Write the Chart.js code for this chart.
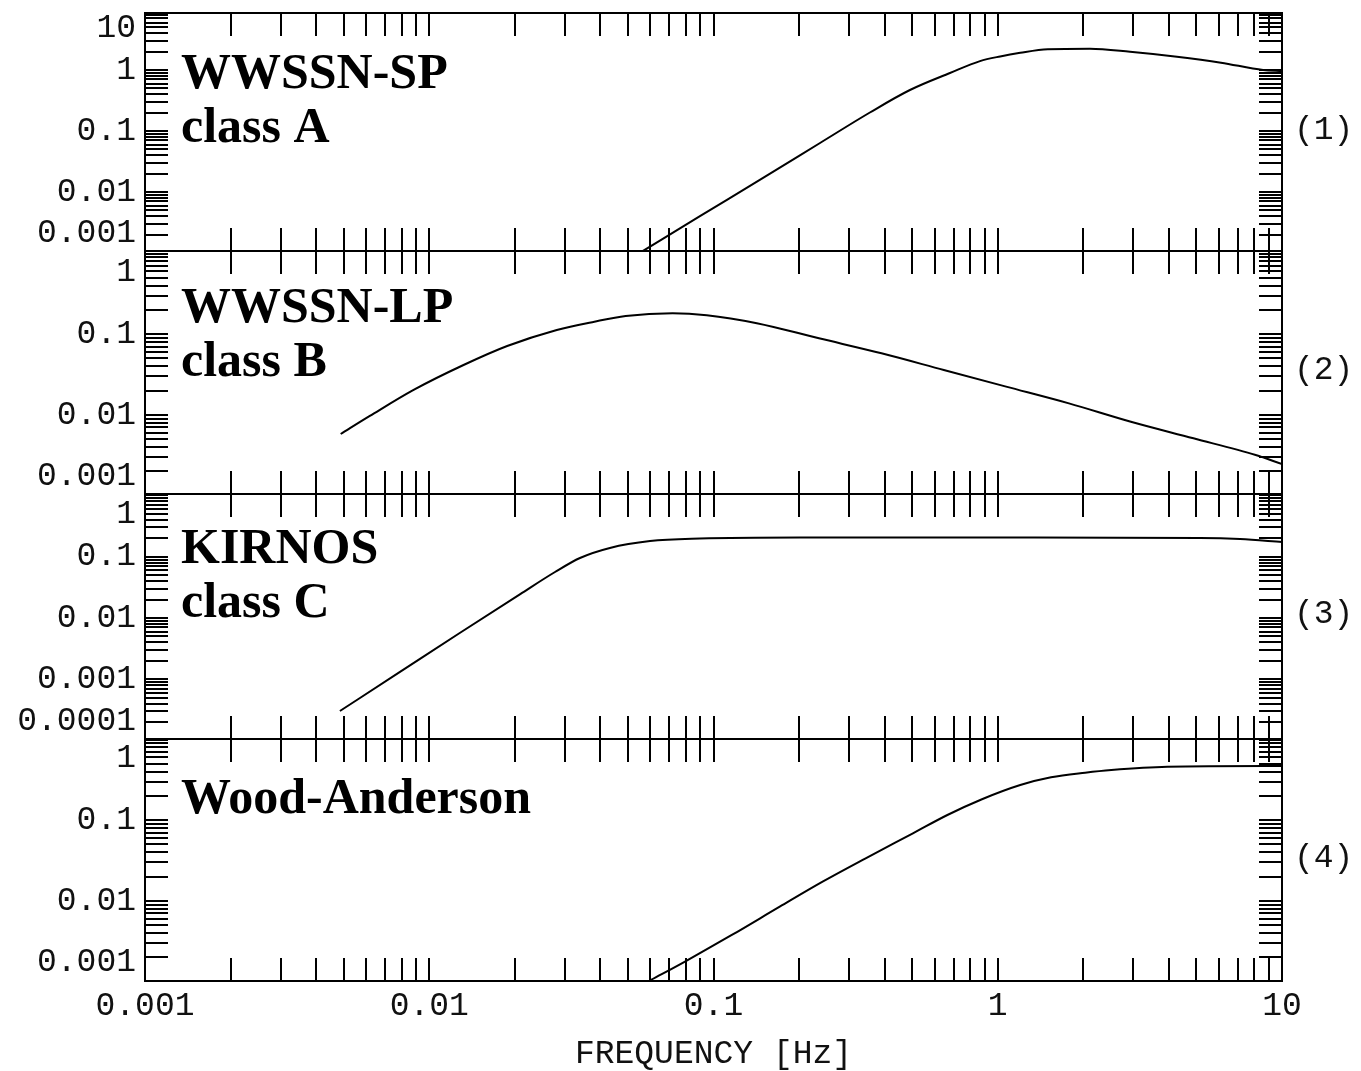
<!DOCTYPE html>
<html>
<head>
<meta charset="utf-8">
<title>Seismograph amplitude responses</title>
<script src="https://cdn.jsdelivr.net/npm/chart.js@4.4.1/dist/chart.umd.min.js"></script>
<style>
  html, body { margin: 0; padding: 0; background: #fff; overflow: hidden; }
  #page { position: relative; width: 1361px; height: 1071px; }
  #page canvas { position: absolute; left: 0; }
</style>
</head>
<body>
<div id="page"></div>
<script>
// ---- Tick labels ----------------------------------------------------------
const xTickLabels = ['0.001', '0.01', '0.1', '1', '10'];
const yTickLabelsSP  = ['10', '1', '0.1', '0.01', '0.001'];
const yTickLabelsLP  = ['1', '0.1', '0.01', '0.001'];
const yTickLabelsKIR = ['1', '0.1', '0.01', '0.001', '0.0001'];
const yTickLabelsWA  = ['1', '0.1', '0.01', '0.001'];
const axisTitle = 'FREQUENCY [Hz]';

// ---- Instrument names ------------------------------------------------------
const seriesNames   = ['WWSSN-SP', 'WWSSN-LP', 'KIRNOS', 'Wood-Anderson'];
const seriesClasses = ['class A', 'class B', 'class C', ''];
const panelTags     = ['(1)', '(2)', '(3)', '(4)'];

// ---- Amplitude responses (frequency in Hz, normalised amplitude) ----------
const freqSP = [0.0565, 0.0896, 0.146, 0.237, 0.355, 0.491, 0.679, 0.866, 1.02, 1.2, 1.5, 2.11, 2.92, 4.27, 6.1, 8.58, 10];
const ampSP  = [0.00108, 0.00401, 0.016, 0.0636, 0.201, 0.47, 0.893, 1.40, 1.67, 1.91, 2.18, 2.23, 1.99, 1.65, 1.32, 1.0, 0.963];

const freqLP = [0.00488, 0.00618, 0.00881, 0.0132, 0.0188, 0.0281, 0.0381, 0.0491, 0.0718, 0.0947, 0.142, 0.235, 0.390, 0.646, 1.07, 1.78, 2.94, 4.88, 8.08, 10];
const ampLP  = [0.0058, 0.0097, 0.0204, 0.0415, 0.0714, 0.113, 0.143, 0.168, 0.182, 0.172, 0.137, 0.0889, 0.058, 0.036, 0.0224, 0.0139, 0.00823, 0.00513, 0.00318, 0.00246];

const freqKIR = [0.00485, 0.00789, 0.0128, 0.0209, 0.0277, 0.0339, 0.0432, 0.0598, 0.0896, 0.2015, 1.02, 5.15, 7.12, 10];
const ampKIR  = [0.000304, 0.00132, 0.00569, 0.0246, 0.0563, 0.0953, 0.139, 0.180, 0.198, 0.206, 0.206, 0.202, 0.194, 0.174];

const freqWA = [0.0603, 0.0791, 0.116, 0.171, 0.242, 0.343, 0.503, 0.665, 0.880, 1.20, 1.54, 2.03, 2.51, 3.95, 8.78, 10];
const ampWA  = [0.00105, 0.00176, 0.00378, 0.00848, 0.0173, 0.0337, 0.0688, 0.116, 0.182, 0.273, 0.340, 0.388, 0.419, 0.460, 0.469, 0.469];

// ---- Panel layout (stacked plots sharing one frequency axis) --------------
const panels = [
  { top: 13,  bottom: 251, yMin: 0.001078,  yMax: 8.60,   titleY: 75,   freq: freqSP,  amp: ampSP,  yLabels: yTickLabelsSP },
  { top: 251, bottom: 494, yMin: 0.001047,  yMax: 1.074,  titleY: 71,   freq: freqLP,  amp: ampLP,  yLabels: yTickLabelsLP },
  { top: 494, bottom: 739, yMin: 0.0001062, yMax: 1.054,  titleY: 69,   freq: freqKIR, amp: ampKIR, yLabels: yTickLabelsKIR },
  { top: 739, bottom: 981, yMin: 0.001017,  yMax: 1.0144, titleY: 73.5, freq: freqWA,  amp: ampWA,  yLabels: yTickLabelsWA }
];

const PAGE_W = 1361, PAGE_H = 1071;
const PLOT_LEFT = 145, PLOT_RIGHT = 1282;
const INK = '#000';
const TEXT_INK = '#111';
const MONO = '"Liberation Mono", "DejaVu Sans Mono", monospace';
const TICK_LEN = -23;           // negative length: tick marks point into the plot

// Log-decade ticks 1..9 x 10^k for the frequency axis
function frequencyTicks() {
  const out = [];
  xTickLabels.forEach((txt, i) => {
    const d = parseFloat(txt);
    const last = i === xTickLabels.length - 1 ? 1 : 9;
    for (let m = 1; m <= last; m++) out.push({ value: m * d, label: m === 1 ? txt : '' });
  });
  return out;
}

// Log-decade ticks for an amplitude axis; the outer labels are nudged inward
function amplitudeTicks(labels, min, max) {
  const out = [];
  labels.forEach((txt, i) => {
    const d = parseFloat(txt);
    for (let m = 1; m <= 9; m++) {
      const v = m * d;
      const inside = v >= min * (1 - 1e-9) && v <= max * (1 + 1e-9);
      if (m === 1) {
        let lab = txt;
        if (i === 0) lab = ['', txt];
        else if (i === labels.length - 1) lab = [txt, ''];
        out.push({ value: v, label: lab });
      } else if (inside) {
        out.push({ value: v, label: '' });
      }
    }
  });
  out.sort((a, b) => a.value - b.value);
  return out;
}

const useTicks = list => scale => { scale.ticks = list.map(t => ({ value: t.value })); };
const markColor = (min, max) => ctx => {
  const v = ctx.tick ? ctx.tick.value : NaN;
  return (v >= min * (1 - 1e-9) && v <= max * (1 + 1e-9)) ? INK : 'rgba(0,0,0,0)';
};
// fixed axis box sizes, with no extra room reserved for overhanging labels
const fixSize = (w, h) => s => {
  if (w !== null) s.width = w;
  if (h !== null) s.height = h;
  s.paddingTop = 0; s.paddingBottom = 0; s.paddingLeft = 0; s.paddingRight = 0;
};

// Instrument name inside the plot and panel number on the right
const panelText = {
  id: 'panelText',
  afterDraw(chart, args, opts) {
    const { ctx, chartArea: a } = chart;
    ctx.save();
    ctx.fillStyle = '#000';
    ctx.textAlign = 'left';
    ctx.textBaseline = 'alphabetic';
    ctx.font = 'bold 50px "Liberation Serif", "Times New Roman", serif';
    opts.lines.forEach((t, i) => ctx.fillText(t, a.left + 36, a.top + opts.firstBaseline + i * 54));
    ctx.fillStyle = TEXT_INK;
    ctx.font = '33px ' + MONO;
    ctx.textBaseline = 'middle';
    ctx.fillText(opts.tag, a.right + 12, (a.top + a.bottom) / 2 - 2);
    ctx.restore();
  }
};

const page = document.getElementById('page');

panels.forEach((p, k) => {
  const isLast = k === panels.length - 1;
  const padTop = 20;
  const padBottom = isLast ? PAGE_H - p.bottom : 20;
  const canvas = document.createElement('canvas');
  canvas.width = PAGE_W;
  canvas.height = padTop + (p.bottom - p.top) + padBottom;
  canvas.style.top = (p.top - padTop) + 'px';
  page.appendChild(canvas);

  const xT = frequencyTicks();
  const yT = amplitudeTicks(p.yLabels, p.yMin, p.yMax);

  const xGrid = { drawOnChartArea: false, drawTicks: true, tickLength: TICK_LEN, color: INK, lineWidth: 2 };
  const yGrid = { drawOnChartArea: false, drawTicks: true, tickLength: TICK_LEN, color: markColor(p.yMin, p.yMax), lineWidth: 2 };
  const axisBorder = { display: true, color: INK, width: 2 };

  new Chart(canvas, {
    type: 'line',
    data: {
      datasets: [{
        label: seriesNames[k],
        data: p.freq.map((f, i) => ({ x: f, y: p.amp[i] })),
        borderColor: '#000',
        borderWidth: 2,
        pointRadius: 0,
        fill: false,
        cubicInterpolationMode: 'monotone',
        xAxisID: 'x',
        yAxisID: 'y'
      }]
    },
    options: {
      responsive: false,
      animation: false,
      events: [],
      devicePixelRatio: 1,
      layout: { padding: 0, autoPadding: false },
      plugins: {
        legend: { display: false },
        tooltip: { enabled: false },
        panelText: {
          lines: [seriesNames[k], seriesClasses[k]].filter(Boolean),
          tag: panelTags[k],
          firstBaseline: p.titleY
        }
      },
      scales: {
        x: {
          type: 'logarithmic', position: 'bottom', min: 0.001, max: 10,
          afterBuildTicks: useTicks(xT),
          afterFit: fixSize(null, padBottom),
          grid: xGrid, border: axisBorder,
          ticks: {
            display: isLast, autoSkip: false, maxRotation: 0, minRotation: 0,
            padding: 31.5, color: TEXT_INK,
            font: { family: MONO, size: 33, lineHeight: 1 },
            callback: (v, i) => (xT[i] ? xT[i].label : '')
          },
          title: {
            display: isLast, text: axisTitle, color: TEXT_INK,
            font: { family: MONO, size: 33, lineHeight: 1 },
            padding: { top: 0, bottom: 0 }
          }
        },
        xTop: {
          type: 'logarithmic', position: 'top', min: 0.001, max: 10,
          afterBuildTicks: useTicks(xT),
          afterFit: fixSize(null, padTop),
          grid: xGrid, border: axisBorder,
          ticks: { display: false, autoSkip: false }
        },
        y: {
          type: 'logarithmic', position: 'left', min: p.yMin, max: p.yMax,
          afterBuildTicks: useTicks(yT),
          afterFit: fixSize(PLOT_LEFT, null),
          grid: yGrid, border: axisBorder,
          ticks: {
            autoSkip: false, padding: 32, labelOffset: 0, color: TEXT_INK,
            font: { family: MONO, size: 33, lineHeight: '38.5px' },
            callback: (v, i) => (yT[i] ? yT[i].label : '')
          }
        },
        yRight: {
          type: 'logarithmic', position: 'right', min: p.yMin, max: p.yMax,
          afterBuildTicks: useTicks(yT),
          afterFit: fixSize(PAGE_W - PLOT_RIGHT, null),
          grid: yGrid, border: axisBorder,
          ticks: { display: false, autoSkip: false }
        }
      }
    },
    plugins: [panelText]
  });
});
</script>
</body>
</html>
